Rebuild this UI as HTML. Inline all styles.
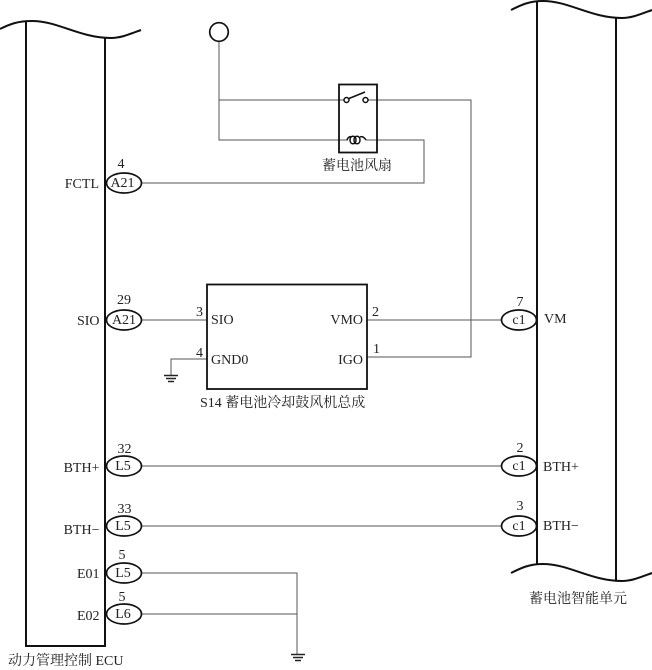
<!DOCTYPE html>
<html>
<head>
<meta charset="utf-8">
<style>
html,body{margin:0;padding:0;background:#fff;width:652px;height:670px;overflow:hidden}
svg{display:block}
text{font-family:"Liberation Serif","Noto Serif CJK SC",serif;font-size:14px;fill:#222}
.e{text-anchor:end}.m{text-anchor:middle}
.b{fill:none;stroke:#111;stroke-width:2}
.w{fill:none;stroke:#555;stroke-width:1}
.o{fill:#fff;stroke:#111;stroke-width:1.7}
</style>
</head>
<body>
<svg width="652" height="670" viewBox="0 0 652 670" xmlns="http://www.w3.org/2000/svg">
<!-- wires -->
<path class="w" d="M219 41V140H424V183H142"/>
<path class="w" d="M219 100H345"/>
<path class="w" d="M367 100H471V357H367"/>
<path class="w" d="M367 320H501"/>
<path class="w" d="M142 320H207"/>
<path class="w" d="M207 359H171V375"/>
<path class="w" d="M142 466H501"/>
<path class="w" d="M142 526H501"/>
<path class="w" d="M142 573H297V654"/>
<path class="w" d="M142 614H297"/>
<!-- left block -->
<path class="b" d="M0 29C10 24 18 21 32 21C58 21 80 38 111 38C121 38 130 34 141 30"/>
<path class="b" d="M26 21V646H105V38"/>
<!-- right block -->
<path class="b" d="M511 10C521 5 529 1 543 1C569 1 591 18 622 18C632 18 641 14 652 10"/>
<path class="b" d="M537 1V564M616 18V581"/>
<path class="b" d="M511 573C521 568 529 564 543 564C569 564 591 581 622 581C632 581 641 577 652 573"/>
<!-- power circle -->
<circle cx="219" cy="32" r="9.3" fill="#fff" stroke="#111" stroke-width="1.7"/>
<!-- relay -->
<rect x="339" y="84.500" width="38" height="68" fill="none" stroke="#111" stroke-width="1.800"/>
<circle cx="346.500" cy="100" r="2.500" fill="#fff" stroke="#111" stroke-width="1.500"/>
<circle cx="365.500" cy="100" r="2.500" fill="#fff" stroke="#111" stroke-width="1.500"/>
<path d="M349 98.500L365 92" stroke="#111" stroke-width="1.500" fill="none"/>
<rect x="348" y="134" width="18" height="11" fill="#fff"/>
<path d="M347 140c1-3 3-4 5-3M350 140c0-5 6-5 6 0s-6 5-6 0M354 140c0-5 6-5 6 0s-6 5-6 0M360 137c2-1 4 0 6 3" fill="none" stroke="#111" stroke-width="1.500"/>
<text x="357" y="170" class="m">蓄电池风扇</text>
<!-- S14 -->
<rect x="207" y="284.500" width="160" height="104.500" fill="none" stroke="#111" stroke-width="1.800"/>
<text x="211" y="324">SIO</text>
<text x="211" y="364">GND0</text>
<text x="363" y="324" class="e">VMO</text>
<text x="363" y="364" class="e">IGO</text>
<text x="196" y="316">3</text>
<text x="196" y="357">4</text>
<text x="372" y="316">2</text>
<text x="373" y="353">1</text>
<text x="200" y="407">S14 蓄电池冷却鼓风机总成</text>
<!-- grounds -->
<path d="M164 375.500H178M166 378.500H176M168 381.500H174" stroke="#222" stroke-width="1.500" fill="none"/>
<path d="M291 654.500H305M293 657.500H303M295 660.500H301" stroke="#222" stroke-width="1.500" fill="none"/>
<!-- left connectors -->
<ellipse class="o" cx="124" cy="183" rx="17.500" ry="10"/>
<ellipse class="o" cx="124" cy="320" rx="17.500" ry="10"/>
<ellipse class="o" cx="124" cy="466" rx="17.500" ry="10"/>
<ellipse class="o" cx="124" cy="526" rx="17.500" ry="10"/>
<ellipse class="o" cx="124" cy="573" rx="17.500" ry="10"/>
<ellipse class="o" cx="124" cy="614" rx="17.500" ry="10"/>
<text x="122.500" y="187" class="m">A21</text>
<text x="124" y="324" class="m">A21</text>
<text x="123" y="470" class="m">L5</text>
<text x="123" y="530" class="m">L5</text>
<text x="123" y="577" class="m">L5</text>
<text x="123" y="618" class="m">L6</text>
<text x="121" y="168" class="m">4</text>
<text x="124" y="304" class="m">29</text>
<text x="124.500" y="453" class="m">32</text>
<text x="124.500" y="513" class="m">33</text>
<text x="122" y="559" class="m">5</text>
<text x="122" y="601" class="m">5</text>
<text x="99" y="188" class="e">FCTL</text>
<text x="99.500" y="325" class="e">SIO</text>
<text x="99.500" y="472" class="e">BTH+</text>
<text x="99.500" y="534" class="e">BTH−</text>
<text x="99.500" y="578" class="e">E01</text>
<text x="99.500" y="620" class="e">E02</text>
<text x="8" y="665">动力管理控制 ECU</text>
<!-- right connectors -->
<ellipse class="o" cx="519" cy="320" rx="17.500" ry="10"/>
<ellipse class="o" cx="519" cy="466" rx="17.500" ry="10"/>
<ellipse class="o" cx="519" cy="526" rx="17.500" ry="10"/>
<text x="519" y="324" class="m">c1</text>
<text x="519" y="470" class="m">c1</text>
<text x="519" y="530" class="m">c1</text>
<text x="520" y="306" class="m">7</text>
<text x="520" y="452" class="m">2</text>
<text x="520" y="510" class="m">3</text>
<text x="544" y="323">VM</text>
<text x="543" y="471">BTH+</text>
<text x="543" y="530">BTH−</text>
<text x="578" y="603" class="m">蓄电池智能单元</text>
</svg>
</body>
</html>
